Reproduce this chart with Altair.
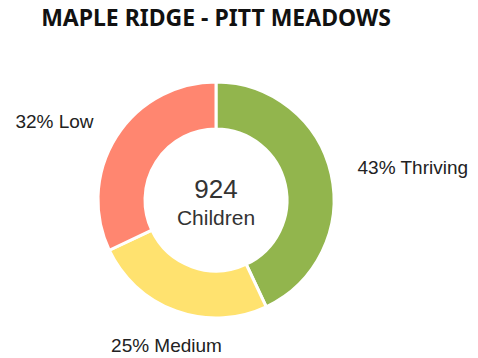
import altair as alt
import pandas as pd

categories = ["Thriving", "Medium", "Low"]
percents = [43, 25, 32]
colors = ["#92B54D", "#FFE26F", "#FF8670"]
labels = ["43% Thriving", "25% Medium", "32% Low"]
title_text = "MAPLE RIDGE - PITT MEADOWS"
center_lines = ["924", "Children"]

df = pd.DataFrame({
    "category": categories,
    "value": percents,
    "label": labels,
    "ord": list(range(len(categories))),
})

CX, CY = 208, 192

base = alt.Chart(df).encode(
    theta=alt.Theta("value:Q", stack=True),
    order=alt.Order("ord:Q"),
)

arc = base.mark_arc(outerRadius=118, innerRadius=71, stroke="white", strokeWidth=3).encode(
    color=alt.Color("category:N", scale=alt.Scale(domain=categories, range=colors), legend=None),
    x=alt.value(CX), y=alt.value(CY),
)

def lab(cat, align, baseline, radius, dx=0):
    return base.mark_text(align=align, baseline=baseline, font="Liberation Sans",
                          fontSize=19, color="#222222", dx=dx).encode(
        text=alt.condition(alt.datum.category == cat, "label:N", alt.value("")),
        radius=alt.value(radius),
        x=alt.value(CX), y=alt.value(CY),
    )

t1 = lab("Thriving", "left", "middle", 145)
t2 = lab("Medium", "center", "middle", 155, dx=3)
t3 = lab("Low", "right", "middle", 145)

one = pd.DataFrame({"a": [0]})
title = alt.Chart(one).mark_text(font="Noto Sans", fontWeight="bold", fontSize=23,
                                 color="#111111", baseline="alphabetic").encode(
    text=alt.value(title_text), x=alt.value(CX), y=alt.value(18))
c1 = alt.Chart(one).mark_text(font="Liberation Sans", fontSize=26, color="#333333",
                              baseline="middle").encode(
    text=alt.value(center_lines[0]), x=alt.value(CX), y=alt.value(182))
c2 = alt.Chart(one).mark_text(font="Liberation Sans", fontSize=21, color="#333333",
                              baseline="middle").encode(
    text=alt.value(center_lines[1]), x=alt.value(CX), y=alt.value(211))

chart = alt.layer(arc, t1, t2, t3, title, c1, c2).properties(
    width=462, height=350,
    autosize=alt.AutoSizeParams(type="none"),
    padding=0,
).configure_view(stroke=None)

chart.save("out.html", embed_options={"renderer": "svg", "actions": False})
